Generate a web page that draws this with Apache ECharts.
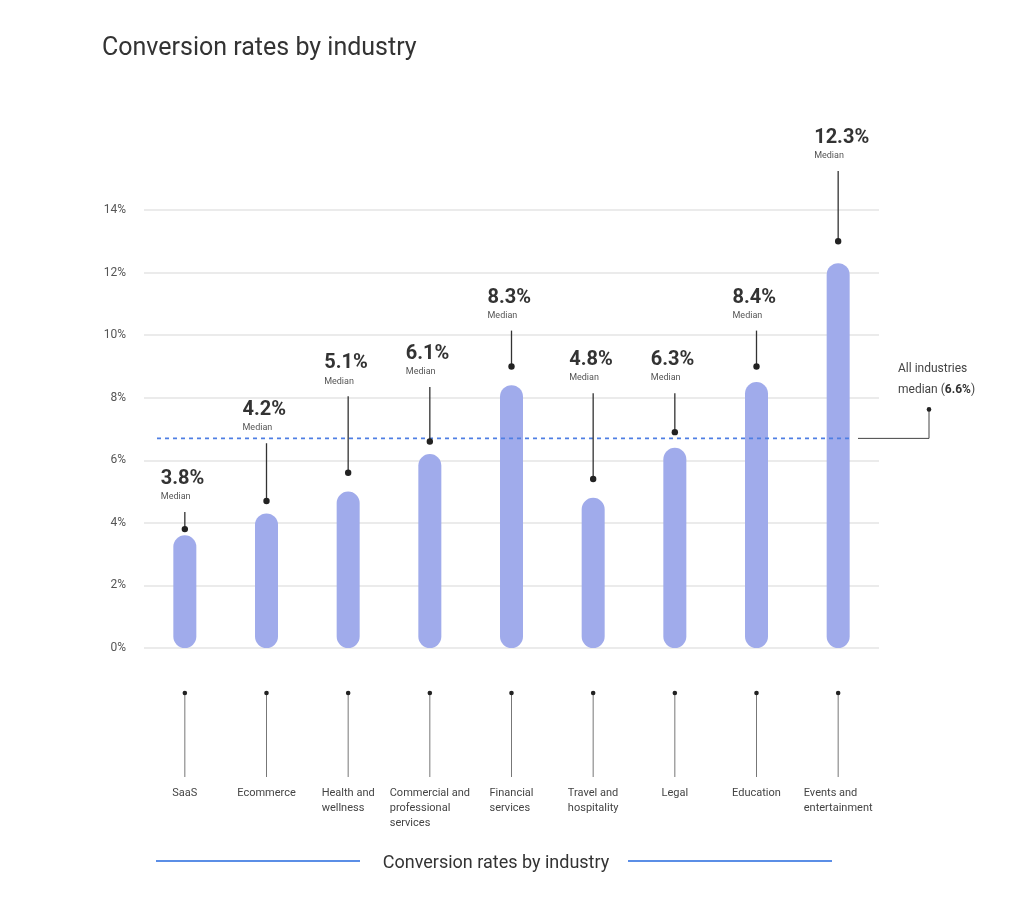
<!DOCTYPE html>
<html>
<head>
<meta charset="utf-8">
<script src="https://cdn.jsdelivr.net/npm/echarts@6/dist/echarts.min.js"></script>
<style>
  html, body { margin: 0; padding: 0; background: #ffffff; }
  #chart { width: 1024px; height: 899px; }
</style>
</head>
<body>
<div id="chart"></div>
<script>
// ---- data ----
const categories = ['SaaS', 'Ecommerce', 'Health and\nwellness', 'Commercial and\nprofessional\nservices',
  'Financial\nservices', 'Travel and\nhospitality', 'Legal', 'Education', 'Events and\nentertainment'];
const barValues = [3.6, 4.3, 5.0, 6.2, 8.4, 4.8, 6.4, 8.5, 12.3];
const medianLabels = ['3.8', '4.2', '5.1', '6.1', '8.3', '4.8', '6.3', '8.4', '12.3'];
const markerValues = [3.8, 4.7, 5.6, 6.6, 9.0, 5.4, 6.9, 9.0, 13.0];
const calloutLevels = [5.4, 7.6, 9.1, 9.4, 11.2, 9.2, 9.2, 11.2, 16.3];
const allIndustriesMedianLabel = '6.6';
const allIndustriesLineLevel = 6.7;
const yTicks = [0, 2, 4, 6, 8, 10, 12, 14];
const chartTitle = 'Conversion rates by industry';

const FONT = 'Roboto, "Noto Sans", sans-serif';
const chart = echarts.init(document.getElementById('chart'), null, { renderer: 'canvas' });

function renderCallout(params, api) {
  const i = api.value(0);
  const dot = api.coord([i, api.value(1)]);
  const lab = api.coord([i, api.value(2)]);
  const base = api.coord([i, 0]);
  const cx = dot[0];
  return {
    type: 'group',
    children: [
      { type: 'text', style: { x: cx - 24, y: lab[1], text: medianLabels[i] + '%',
          font: 'bold 20px ' + FONT, fill: '#333333', align: 'left', verticalAlign: 'middle' } },
      { type: 'text', style: { x: cx - 24, y: lab[1] + 18, text: 'Median',
          font: '9px ' + FONT, fill: '#555555', align: 'left', verticalAlign: 'middle' } },
      { type: 'line', shape: { x1: cx, y1: lab[1] + 33, x2: cx, y2: dot[1] },
        style: { stroke: '#333333', lineWidth: 1.3 } },
      { type: 'circle', shape: { cx: cx, cy: dot[1], r: 3.2 }, style: { fill: '#222222' } },
      { type: 'line', shape: { x1: cx, y1: base[1] + 45, x2: cx, y2: base[1] + 129 },
        style: { stroke: '#777777', lineWidth: 1 } },
      { type: 'circle', shape: { cx: cx, cy: base[1] + 45, r: 2.3 }, style: { fill: '#222222' } }
    ]
  };
}

function renderMedianLine(params, api) {
  const cs = params.coordSys;
  const p = api.coord([0, api.value(0)]);
  const y = p[1];
  const xr = cs.x + cs.width;
  return {
    type: 'group',
    children: [
      { type: 'line', shape: { x1: cs.x + 13, y1: y, x2: xr - 28, y2: y },
        style: { stroke: '#4f7fe3', lineWidth: 1.6, lineDash: [4, 4] } },
      { type: 'polyline', shape: { points: [[xr - 21, y], [xr + 50, y], [xr + 50, y - 29]] },
        style: { stroke: '#444444', lineWidth: 1, fill: null } },
      { type: 'circle', shape: { cx: xr + 50, cy: y - 29, r: 2.3 }, style: { fill: '#222222' } },
      { type: 'text', style: { x: xr + 19, y: y - 59,
          text: '{n|All industries}\n{n|median (}{b|' + allIndustriesMedianLabel + '%}{n|)}',
          align: 'left', verticalAlign: 'middle',
          rich: {
            n: { font: '12px ' + FONT, fill: '#444444', lineHeight: 21 },
            b: { font: 'bold 12px ' + FONT, fill: '#333333', lineHeight: 21 }
          } } }
    ]
  };
}

const option = {
  backgroundColor: '#ffffff',
  animation: false,
  title: {
    text: chartTitle,
    left: 102, top: 36, padding: 0,
    textStyle: { fontFamily: FONT, fontSize: 25, fontWeight: 'normal', color: '#333333' }
  },
  grid: { left: 144, right: 145, top: 210, bottom: 251, containLabel: false },
  xAxis: {
    type: 'category',
    data: categories,
    axisLine: { show: false },
    axisTick: { show: false },
    axisLabel: {
      margin: 138,
      interval: 0,
      align: 'center',
      verticalAlign: 'top',
      formatter: function (v) {
        return v.split('\n').map(function (s) { return '{a|' + s + '}'; }).join('\n');
      },
      rich: { a: { fontFamily: FONT, fontSize: 11, color: '#444444', lineHeight: 15, align: 'left' } }
    }
  },
  yAxis: {
    type: 'value',
    min: yTicks[0], max: yTicks[yTicks.length - 1], interval: 2,
    axisLine: { show: false },
    axisTick: { show: false },
    axisLabel: { margin: 18, fontFamily: FONT, fontSize: 12, color: '#555555',
      formatter: function (v) { return v + '%'; } },
    splitLine: { lineStyle: { color: '#e4e4e4', width: 1.5 } }
  },
  series: [
    {
      type: 'bar',
      data: barValues,
      barWidth: 23,
      itemStyle: { color: '#a0abeb', borderRadius: 11.5 },
      z: 2
    },
    {
      type: 'custom',
      data: [[allIndustriesLineLevel]],
      renderItem: renderMedianLine,
      clip: false,
      z: 3,
      silent: true
    },
    {
      type: 'custom',
      data: barValues.map(function (_, i) { return [i, markerValues[i], calloutLevels[i]]; }),
      encode: { x: 0, y: 1 },
      renderItem: renderCallout,
      clip: false,
      z: 4,
      silent: true
    }
  ],
  graphic: [
    { type: 'line', shape: { x1: 156, y1: 861, x2: 360, y2: 861 },
      style: { stroke: '#5b8ee6', lineWidth: 2 } },
    { type: 'line', shape: { x1: 628, y1: 861, x2: 832, y2: 861 },
      style: { stroke: '#5b8ee6', lineWidth: 2 } },
    { type: 'text', x: 496, y: 863, style: { text: chartTitle, font: '18px ' + FONT,
        fill: '#333333', align: 'center', verticalAlign: 'middle' } }
  ]
};
chart.setOption(option);
</script>
</body>
</html>
